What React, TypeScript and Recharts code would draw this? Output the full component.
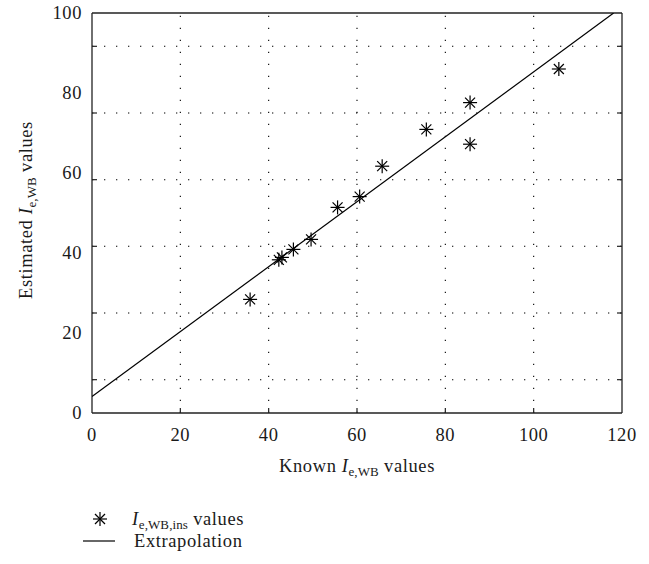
import { ScatterChart, Scatter, XAxis, YAxis, ReferenceLine } from 'recharts'

// axis ticks and grid positions (the y grid sits between the labelled ticks in the source figure)
const xTicks = [0, 20, 40, 60, 80, 100, 120]
const yTicks = [0, 20, 40, 60, 80, 100]
const xGrid = [20, 40, 60, 80, 100]
const yGrid = [8.33, 25, 41.67, 58.33, 75, 91.67]

// measured points
const knownValues = [35.8, 42.3, 43.0, 45.6, 49.6, 55.6, 60.6, 65.7, 75.7, 85.6, 85.6, 105.7]
const estimatedValues = [28.4, 38.3, 38.9, 40.9, 43.4, 51.4, 54.1, 61.7, 70.9, 77.6, 67.2, 86.0]

// extrapolation line end points
const fitX = [0, 118.1]
const fitY = [4.1, 100]

const points = knownValues.map((x, i) => ({ x, y: estimatedValues[i] }))
const fitLine = fitX.map((x, i) => ({ x, y: fitY[i] }))

const FONT = "'Liberation Serif', 'Times New Roman', serif"
const INK = '#1a1a1a'
const FS = 18.5
const SUB = 13
const LS = 0.6
const gridStyle = { stroke: '#000', strokeWidth: 1.1, strokeDasharray: '1.3 10.7' }
const axisLine = { stroke: '#222', strokeWidth: 1.3 }
const textProps = { fontFamily: FONT, fontSize: FS, fill: INK, letterSpacing: LS }

function Asterisk({ cx, cy }: any) {
  return (
    <g stroke="#000" strokeWidth={1.2}>
      <line x1={cx - 7} y1={cy} x2={cx + 7} y2={cy} />
      <line x1={cx} y1={cy - 7} x2={cx} y2={cy + 7} />
      <line x1={cx - 5} y1={cy - 5} x2={cx + 5} y2={cy + 5} />
      <line x1={cx - 5} y1={cy + 5} x2={cx + 5} y2={cy - 5} />
    </g>
  )
}

const NoDot = () => <g />

function BottomTick({ x, y, payload }: any) {
  const v = payload.value
  return (
    <g>
      {xGrid.includes(v) && <line x1={x} y1={y} x2={x} y2={y - 5} stroke="#222" strokeWidth={1.2} />}
      <text x={x} y={y + 28} textAnchor="middle" {...textProps}>
        {v}
      </text>
    </g>
  )
}

function TopTick({ x, y }: any) {
  return <line x1={x} y1={y} x2={x} y2={y + 5} stroke="#222" strokeWidth={1.2} />
}

function LeftTick({ x, y, payload }: any) {
  const v = payload.value
  return (
    <g>
      {yGrid.includes(v) && <line x1={x} y1={y} x2={x + 5} y2={y} stroke="#222" strokeWidth={1.2} />}
      {yTicks.includes(v) && (
        <text x={x - 10} y={y + 6} textAnchor="end" {...textProps}>
          {v}
        </text>
      )}
    </g>
  )
}

function RightTick({ x, y }: any) {
  return <line x1={x} y1={y} x2={x - 5} y2={y} stroke="#222" strokeWidth={1.2} />
}

function XTitle({ viewBox }: any) {
  const { x, y, width } = viewBox
  return (
    <text x={x + width / 2} y={y + 59} textAnchor="middle" {...textProps}>
      Known <tspan fontStyle="italic">I</tspan>
      <tspan fontSize={SUB} dy={4} letterSpacing={0.1}>e,WB</tspan>
      <tspan dy={-4}> values</tspan>
    </text>
  )
}

function YTitle({ viewBox }: any) {
  const { y, height } = viewBox
  const cy = y + height / 2 - 3
  return (
    <text x={32} y={cy} transform={`rotate(-90, 32, ${cy})`} textAnchor="middle" {...textProps}>
      Estimated <tspan fontStyle="italic">I</tspan>
      <tspan fontSize={SUB} dy={4} letterSpacing={0.1}>e,WB</tspan>
      <tspan dy={-4}> values</tspan>
    </text>
  )
}

function LegendBox() {
  return (
    <svg width={649} height={564} style={{ position: 'absolute', left: 0, top: 0, pointerEvents: 'none' }}>
      <Asterisk cx={100} cy={519} />
      <text x={132} y={525} {...textProps}>
        <tspan fontStyle="italic">I</tspan>
        <tspan fontSize={SUB} dy={4} letterSpacing={0.1}>e,WB,ins</tspan>
        <tspan dy={-4}> values</tspan>
      </text>
      <line x1={83} y1={541} x2={115} y2={541} stroke="#000" strokeWidth={1.2} />
      <text x={134} y={547} {...textProps}>
        Extrapolation
      </text>
    </svg>
  )
}

export default function App() {
  const leftTicks = [...yTicks, ...yGrid].sort((a, b) => a - b)
  return (
    <div style={{ position: 'absolute', left: 0, top: 0, width: 649, height: 564, background: '#fff' }}>
      <ScatterChart width={649} height={564} margin={{ top: 12, right: 26, left: 32, bottom: 121 }}>
        <XAxis
          xAxisId={0}
          type="number"
          dataKey="x"
          domain={[0, 120]}
          ticks={xTicks}
          interval={0}
          allowDataOverflow
          height={30}
          tickSize={0}
          tickMargin={0}
          tickLine={false}
          axisLine={axisLine}
          tick={<BottomTick />}
          label={<XTitle />}
        />
        <XAxis
          xAxisId="top"
          orientation="top"
          type="number"
          domain={[0, 120]}
          ticks={xGrid}
          interval={0}
          allowDataOverflow
          height={1}
          tickSize={0}
          tickMargin={0}
          tickLine={false}
          axisLine={axisLine}
          tick={<TopTick />}
        />
        <YAxis
          yAxisId={0}
          type="number"
          dataKey="y"
          domain={[0, 100]}
          ticks={leftTicks}
          interval={0}
          allowDataOverflow
          width={60}
          tickSize={0}
          tickMargin={0}
          tickLine={false}
          axisLine={axisLine}
          tick={<LeftTick />}
          label={<YTitle />}
        />
        <YAxis
          yAxisId="right"
          orientation="right"
          type="number"
          domain={[0, 100]}
          ticks={yGrid}
          interval={0}
          allowDataOverflow
          width={1}
          tickSize={0}
          tickMargin={0}
          tickLine={false}
          axisLine={axisLine}
          tick={<RightTick />}
        />
        {xGrid.map((v) => (
          <ReferenceLine key={`vx${v}`} x={v} {...gridStyle} />
        ))}
        {yGrid.map((v) => (
          <ReferenceLine key={`hy${v}`} y={v} {...gridStyle} />
        ))}
        <Scatter
          name="Extrapolation"
          data={fitLine}
          line={{ stroke: '#000', strokeWidth: 1.2 }}
          shape={<NoDot />}
          isAnimationActive={false}
        />
        <Scatter name="values" data={points} shape={<Asterisk />} isAnimationActive={false} />
      </ScatterChart>
      <LegendBox />
    </div>
  )
}
